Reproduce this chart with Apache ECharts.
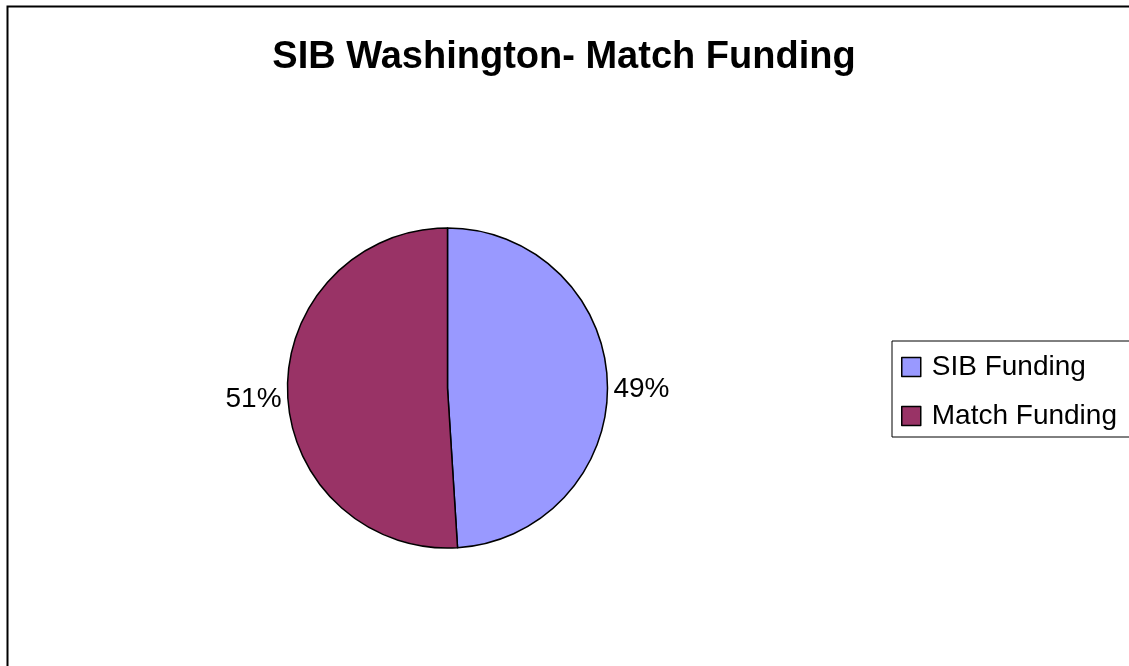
<!DOCTYPE html>
<html>
<head>
<meta charset="utf-8">
<script src="https://cdn.jsdelivr.net/npm/echarts@6/dist/echarts.min.js"></script>
<style>
  html, body { margin: 0; padding: 0; background: #fff; }
  #chart { width: 1129px; height: 666px; }
</style>
</head>
<body>
<div id="chart"></div>
<script>
// slices, clockwise from 12 o'clock
const categories = ['SIB Funding', 'Match Funding']
const shares = [49, 51]
const colors = ['#9999FF', '#993366']

const chart = echarts.init(document.getElementById('chart'))

const option = {
  animation: false,
  color: colors,
  title: {
    text: 'SIB Washington- Match Funding',
    left: 559,
    top: 34,
    textAlign: 'center',
    textStyle: {
      fontFamily: 'Liberation Sans, Arial, sans-serif',
      fontSize: 38,
      fontWeight: 'bold',
      color: '#000'
    }
  },
  legend: {
    orient: 'vertical',
    left: 892,
    top: 341,
    icon: 'rect',
    itemWidth: 19,
    itemHeight: 19,
    itemGap: 19,
    padding: [11, 20, 6, 9],
    borderColor: '#000',
    borderWidth: 1,
    itemStyle: { borderColor: '#000', borderWidth: 1.5 },
    textStyle: {
      fontFamily: 'Liberation Sans, Arial, sans-serif',
      fontSize: 28,
      lineHeight: 30,
      color: '#000',
      padding: [0, 0, 0, 6]
    },
    data: categories
  },
  graphic: [{
    type: 'rect',
    shape: { x: 7.5, y: 6.5, width: 1300, height: 900 },
    style: { fill: 'none', stroke: '#000', lineWidth: 2 },
    silent: true
  }],
  series: [{
    type: 'pie',
    center: [447.5, 388],
    radius: 160,
    startAngle: 90,
    clockwise: true,
    avoidLabelOverlap: false,
    itemStyle: { borderColor: '#000', borderWidth: 1.5 },
    label: {
      position: 'outside',
      formatter: p => Math.round(p.percent) + '%',
      fontFamily: 'Liberation Sans, Arial, sans-serif',
      fontSize: 28,
      color: '#000'
    },
    labelLine: { show: false, length: 1, length2: 0 },
    labelLayout: { dy: 6 },
    emphasis: { disabled: true },
    data: categories.map((name, i) => ({ name: name, value: shares[i] }))
  }]
}

chart.setOption(option)
</script>
</body>
</html>
